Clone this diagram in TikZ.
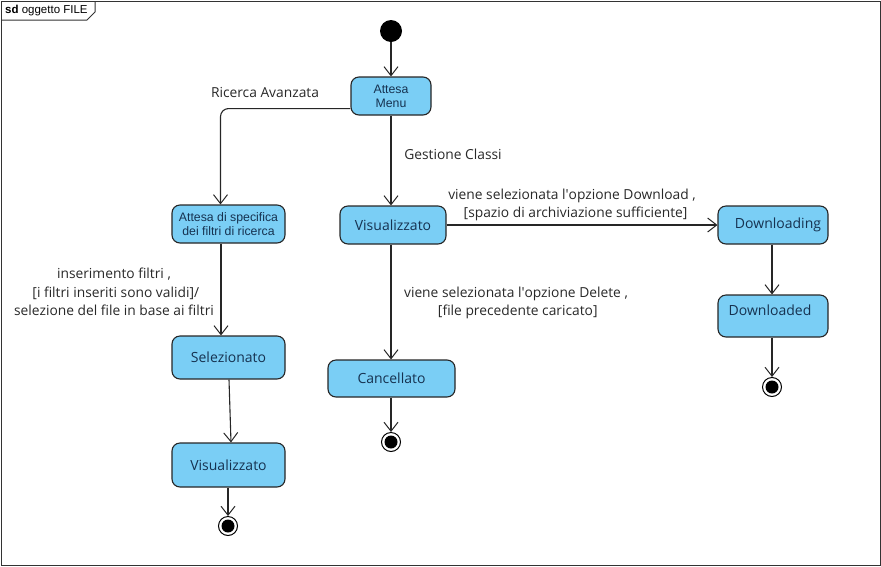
\documentclass[tikz,border=0pt]{standalone}
\usepackage{fontspec}
\setmainfont{Open Sans}
\newfontfamily\arialf{Liberation Sans}
\usetikzlibrary{arrows.meta,calc}
\definecolor{boxfill}{RGB}{122,206,245}
\definecolor{boxtext}{RGB}{22,50,80}
\definecolor{lbltext}{RGB}{40,40,40}
\begin{document}
\begin{tikzpicture}[x=1pt,y=-1pt,
  state/.style={draw=black!85,fill=boxfill,rounded corners=8pt,line width=1.1pt,inner sep=0pt,text=boxtext,align=center,font=\fontsize{14}{16}\selectfont},
  smallstate/.style={state,font=\arialf\fontsize{12.3}{14}\selectfont},
  tr/.style={draw=black!85,line width=1.1pt,-{Straight Barb[length=9pt,width=14pt,line width=1pt]}},
  lbl/.style={text=lbltext,align=center,font=\fontsize{13.8}{18.5}\selectfont,inner sep=0pt},
  ]
\useasboundingbox (0,0) rectangle (881,566);
% frame
\draw[black!80,line width=1pt] (1,1) rectangle (880,565);
\draw[black!80,line width=1pt] (95,1) -- (95,12) -- (87,20) -- (1,20);
\node[anchor=west,inner sep=0pt,font=\arialf\fontsize{11.5}{13}\selectfont] (title) at (5,10.5) {\textbf{sd} oggetto FILE};
% initial
\node[circle,fill=black,minimum size=22pt,inner sep=0pt] (init) at (391,31) {};
% states
\node[smallstate,minimum width=80pt,minimum height=38pt] (menu) at (391,96) {Attesa\\Menu};
\node[smallstate,minimum width=113pt,minimum height=38pt] (spec) at (228.5,224) {Attesa di specifica\\dei filtri di ricerca};
\node[state,minimum width=106pt,minimum height=38pt] (vis) at (393,225) {Visualizzato};
\node[state,minimum width=110pt,minimum height=38pt] (dling) at (773,225) {};
\node[lbl,text=boxtext,font=\fontsize{14}{16}\selectfont] (dlingt) at (778,225) {Downloading};
\node[state,minimum width=110pt,minimum height=42pt] (dled) at (773,316) {};
\node[lbl,text=boxtext,font=\fontsize{14}{16}\selectfont] (dledt) at (770,310) {Downloaded};
\node[state,minimum width=127pt,minimum height=37pt] (canc) at (391.5,378.5) {Cancellato};
\node[state,minimum width=113pt,minimum height=43pt] (sel) at (228.5,357.5) {Selezionato};
\node[state,minimum width=113pt,minimum height=44pt] (vis2) at (228.5,465) {Visualizzato};
% finals
\foreach \n/\x/\y in {f1/391/442, f2/228/526, f3/772/387}{
  \node[circle,draw=black,line width=1pt,fill=white,minimum size=19pt,inner sep=0pt] (\n) at (\x,\y) {};
  \fill[black] (\x,\y) circle (6.5pt);
}
% transitions
\draw[tr] (init) -- (menu);
\draw[tr,rounded corners=8pt] ($(menu.south west)+(0,-7)$) -| ($(spec.north)+(-8,0)$);
\draw[tr] (menu.south) -- (vis.north -| menu.south);
\draw[tr] (vis) -- (dling);
\draw[tr] (dling.south -| 772,0) -- (dled.north -| 772,0);
\draw[tr] (dled.south -| 772,0) -- (f3);
\draw[tr] (vis.south -| 391,0) -- (canc.north -| 391,0);
\draw[tr] (canc.south -| 391,0) -- (f1);
\draw[tr] (spec.south -| 221,0) -- (sel.north -| 221,0);
\draw[tr] (sel.south -| 229,0) -- (vis2.north -| 231,0);
\draw[tr] (vis2.south -| 228,0) -- (f2);
% labels
\node[lbl] (l1) at (265,92) {Ricerca Avanzata};
\node[lbl] (l2) at (453,154) {Gestione Classi};
\node[lbl] (l3) at (572,205) {viene selezionata l\textquotesingle opzione Download ,\\\ \ [spazio di archiviazione sufficiente]};
\node[lbl] (l4) at (516,303) {viene selezionata l\textquotesingle opzione Delete ,\\\ [file precedente caricato]};
\node[lbl] (l5) at (114,292) {inserimento filtri ,\\\ [i filtri inseriti sono validi]/\\selezione del file in base ai filtri};
\end{tikzpicture}
\end{document}
